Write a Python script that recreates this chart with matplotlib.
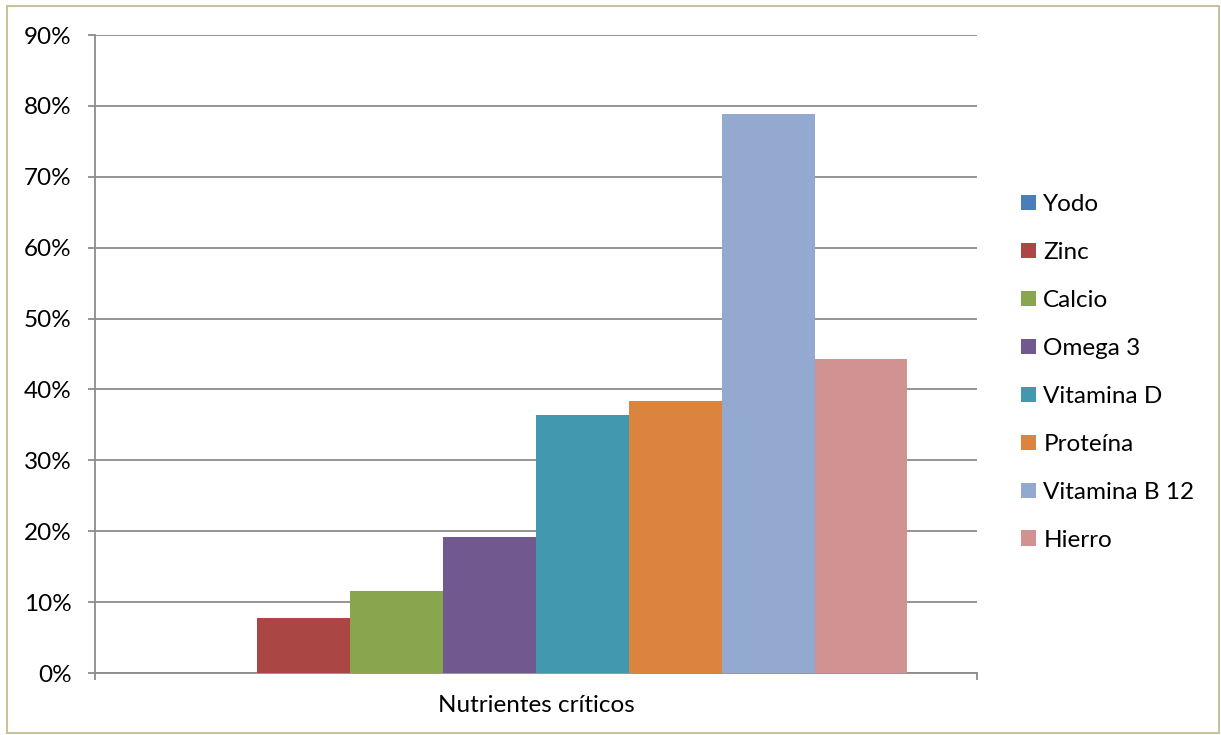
import matplotlib
matplotlib.use("Agg")
import matplotlib.pyplot as plt
from matplotlib.patches import Rectangle
import numpy as np

categories = ["Nutrientes críticos"]
series_names = ["Yodo", "Zinc", "Calcio", "Omega 3", "Vitamina D", "Proteína", "Vitamina B 12", "Hierro"]
series_values = [0.0, 7.7, 11.5, 19.2, 36.4, 38.4, 78.8, 44.3]
series_colors = ["#4A7EBB", "#AA4643", "#89A54E", "#71588F", "#4198AF", "#DB843D", "#93A9CF", "#D19392"]
y_ticks = [0, 10, 20, 30, 40, 50, 60, 70, 80, 90]
y_tick_labels = [f"{v}%" for v in y_ticks]

FONT = "Lato"
FS = 17.5

W, H = 1221, 735
fig = plt.figure(figsize=(W / 100, H / 100), dpi=100)
ax = fig.add_axes([95 / W, 1 - 673 / H, (977 - 95) / W, (673 - 35) / H])

n = len(series_names)
gap = 1.5
w = 1.0 / (n + gap)
x = np.arange(len(categories))
for i, (name, val, col) in enumerate(zip(series_names, series_values, series_colors)):
    ax.bar(x + (i - (n - 1) / 2) * w, [val], width=w, color=col, label=name, zorder=3)

ax.set_xlim(-0.5, 0.5)
ax.set_ylim(0, 90)
ax.set_yticks(y_ticks)
ax.set_yticklabels(y_tick_labels, fontfamily=FONT, fontsize=FS)
ax.set_xticks(x)
ax.set_xticklabels(categories, fontfamily=FONT, fontsize=FS)
ax.set_xticks([-0.5, 0.5], minor=True)

grid_col = "#8C8C8C"
ax.grid(axis="y", color=grid_col, linewidth=1.3, zorder=0)
for s in ["top", "right"]:
    ax.spines[s].set_visible(False)
for s in ["left", "bottom"]:
    ax.spines[s].set_color(grid_col)
    ax.spines[s].set_linewidth(1.3)
ax.tick_params(axis="y", length=5, width=1.3, color=grid_col, pad=12, labelcolor="black")
ax.tick_params(axis="x", which="major", length=0, pad=16, labelcolor="black")
ax.tick_params(axis="x", which="minor", length=5, width=1.3, color=grid_col)

leg = ax.legend(loc="center left", bbox_to_anchor=(1021 / W, 1 - 372.5 / H),
                bbox_transform=fig.transFigure, frameon=False,
                prop={"family": FONT, "size": FS}, handlelength=0.62, handleheight=0.62,
                handletextpad=0.3, labelspacing=1.11, borderpad=0, borderaxespad=0)

fig.patches.append(Rectangle((7.5 / W, 2 / H), (1219 - 7.5) / W, (733 - 5.5) / H,
                             transform=fig.transFigure, fill=False,
                             edgecolor="#CBC29C", linewidth=1.5))

fig.savefig("out.png", dpi=100, facecolor="white")
